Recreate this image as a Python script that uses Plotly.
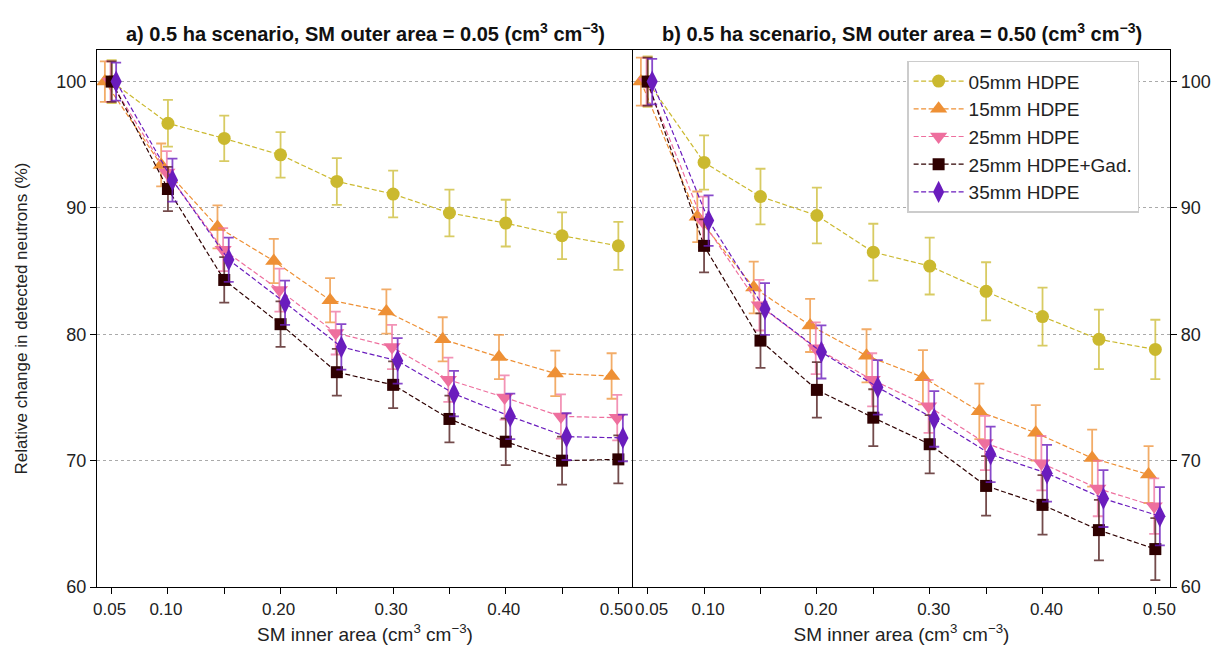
import plotly.graph_objects as go

# SM inner area (cm3 cm-3)
x_vals = [0.05, 0.10, 0.15, 0.20, 0.25, 0.30, 0.35, 0.40, 0.45, 0.50]
tick_text = ["0.05", "0.10", "", "0.20", "", "0.30", "", "0.40", "", "0.50"]

# panel a) SM outer area = 0.05
hdpe05_a = [100, 96.7, 95.5, 94.2, 92.1, 91.1, 89.6, 88.8, 87.8, 87.0]
hdpe15_a = [100, 93.4, 88.5, 85.8, 82.7, 81.8, 79.6, 78.2, 76.9, 76.7]
hdpe25_a = [100, 92.8, 86.7, 83.5, 80.1, 79.0, 76.4, 75.0, 73.5, 73.4]
gad25_a = [100, 91.5, 84.3, 80.8, 77.0, 76.0, 73.3, 71.5, 70.0, 70.1]
hdpe35_a = [100, 92.2, 85.9, 82.5, 79.0, 77.9, 75.3, 73.5, 71.9, 71.8]

err05_a = [1.7, 1.85, 1.8, 1.8, 1.85, 1.85, 1.85, 1.85, 1.85, 1.9]
err15_a = [1.6, 1.7, 1.7, 1.75, 1.75, 1.75, 1.75, 1.75, 1.8, 1.8]
err25_a = [1.6, 1.7, 1.7, 1.7, 1.7, 1.75, 1.75, 1.75, 1.75, 1.8]
errgad_a = [1.6, 1.75, 1.8, 1.8, 1.85, 1.85, 1.85, 1.85, 1.9, 1.9]
err35_a = [1.5, 1.7, 1.75, 1.75, 1.8, 1.8, 1.8, 1.8, 1.85, 1.85]

# panel b) SM outer area = 0.50
hdpe05_b = [100, 93.6, 90.9, 89.4, 86.5, 85.4, 83.4, 81.4, 79.6, 78.8]
hdpe15_b = [100, 89.3, 83.7, 80.7, 78.3, 76.6, 73.9, 72.2, 70.2, 68.9]
hdpe25_b = [100, 88.9, 82.3, 78.9, 76.4, 74.3, 71.4, 69.8, 67.8, 66.4]
gad25_b = [100, 87.0, 79.5, 75.6, 73.4, 71.3, 68.0, 66.5, 64.5, 63.0]
hdpe35_b = [100, 89.0, 82.0, 78.6, 75.8, 73.3, 70.5, 69.0, 67.0, 65.6]

err05_b = [2.0, 2.15, 2.2, 2.2, 2.25, 2.25, 2.3, 2.3, 2.35, 2.35]
err15_b = [1.9, 2.0, 2.05, 2.1, 2.1, 2.15, 2.2, 2.2, 2.25, 2.25]
err25_b = [1.9, 2.0, 2.0, 2.05, 2.1, 2.1, 2.15, 2.15, 2.2, 2.2]
errgad_b = [1.9, 2.1, 2.15, 2.2, 2.25, 2.3, 2.35, 2.35, 2.4, 2.45]
err35_b = [1.8, 2.0, 2.05, 2.1, 2.15, 2.2, 2.2, 2.25, 2.25, 2.3]

names = ["05mm HDPE", "15mm HDPE", "25mm HDPE", "25mm HDPE+Gad.", "35mm HDPE"]

styles = {
    "05mm HDPE": dict(color="#cbb92f", err="rgba(203,185,47,0.75)", symbol="circle", size=13, dx=0.0),
    "15mm HDPE": dict(color="#ee9035", err="rgba(238,144,53,0.75)", symbol="triangle-up", size=15, dx=-0.006),
    "25mm HDPE": dict(color="#ee6f9e", err="rgba(238,111,158,0.75)", symbol="triangle-down", size=15, dx=-0.001),
    "25mm HDPE+Gad.": dict(color="#2e0000", err="rgba(80,30,30,0.8)", symbol="square", size=12, dx=0.0),
    "35mm HDPE": dict(color="#6a1cbd", err="rgba(106,28,189,0.8)", symbol="diamond-tall", size=16, dx=0.004),
}

panels = [
    ("x", "y", [hdpe05_a, hdpe15_a, hdpe25_a, gad25_a, hdpe35_a],
     [err05_a, err15_a, err25_a, errgad_a, err35_a], False),
    ("x2", "y2", [hdpe05_b, hdpe15_b, hdpe25_b, gad25_b, hdpe35_b],
     [err05_b, err15_b, err25_b, errgad_b, err35_b], True),
]

fig = go.Figure()
for xa, ya, series, errors, show in panels:
    for name, vals, err in zip(names, series, errors):
        st = styles[name]
        fig.add_trace(
            go.Scatter(
                x=[v + st["dx"] for v in x_vals],
                y=vals,
                xaxis=xa,
                yaxis=ya,
                mode="lines+markers",
                name=name,
                showlegend=show,
                line=dict(color=st["color"], width=1.2, dash="5px,2.5px"),
                marker=dict(symbol=st["symbol"], size=st["size"], color=st["color"]),
                error_y=dict(type="data", array=err, visible=True, color=st["err"],
                             thickness=1.8, width=5),
            )
        )

font = "Liberation Sans, Arial, sans-serif"
split = 536 / 1073
axis_common = dict(
    showline=True, linecolor="black", linewidth=1.3,
    ticks="outside", ticklen=6, tickwidth=1.3, tickcolor="black",
    tickfont=dict(size=18, color="#222"), zeroline=False, automargin=False,
)
xcommon = dict(axis_common, mirror=True, range=[0.037, 0.513], tickvals=x_vals,
               ticktext=tick_text, showgrid=False, tickfont=dict(size=17, color="#222"),
               title=dict(text="SM inner area (cm<sup>3</sup> cm<sup>−3</sup>)",
                          font=dict(size=19, color="#222"), standoff=10))
ycommon = dict(axis_common, range=[60, 102.5], tickvals=[60, 70, 80, 90, 100],
               showgrid=True, gridcolor="#aaaaaa", griddash="dot", gridwidth=1)

# the page body adds an 8px offset, so margins are trimmed to match
fig.update_layout(
    width=1215, height=644,
    margin=dict(l=89, r=53, t=42, b=65),
    plot_bgcolor="white", paper_bgcolor="white",
    font=dict(family=font, color="#222"),
    xaxis=dict(xcommon, domain=[0, split], anchor="y", ticklabelshift=-2),
    xaxis2=dict(xcommon, domain=[split, 1], anchor="y2", ticklabelshift=4),
    yaxis=dict(ycommon, anchor="x", mirror=False,
               title=dict(text="Relative change in detected neutrons (%)",
                          font=dict(size=17, color="#222"), standoff=24)),
    yaxis2=dict(ycommon, anchor="x2", side="right", matches="y", mirror=True),
    legend=dict(x=0.755, y=0.98, xanchor="left", yanchor="top",
                bgcolor="white", bordercolor="#cccccc", borderwidth=1.5,
                font=dict(size=19, color="#222"), itemwidth=50, tracegroupgap=0),
    showlegend=True,
)

titles = [
    (split / 2, "a) 0.5 ha scenario, SM outer area = 0.05 (cm<sup>3</sup> cm<sup>−3</sup>)"),
    ((split + 1) / 2, "b) 0.5 ha scenario, SM outer area = 0.50 (cm<sup>3</sup> cm<sup>−3</sup>)"),
]
for xpos, txt in titles:
    fig.add_annotation(x=xpos, y=1.0, xref="paper", yref="paper", xanchor="center",
                       yanchor="bottom", yshift=3, showarrow=False, text=f"<b>{txt}</b>",
                       font=dict(size=20, color="#111"))

fig.write_html("out.html")
